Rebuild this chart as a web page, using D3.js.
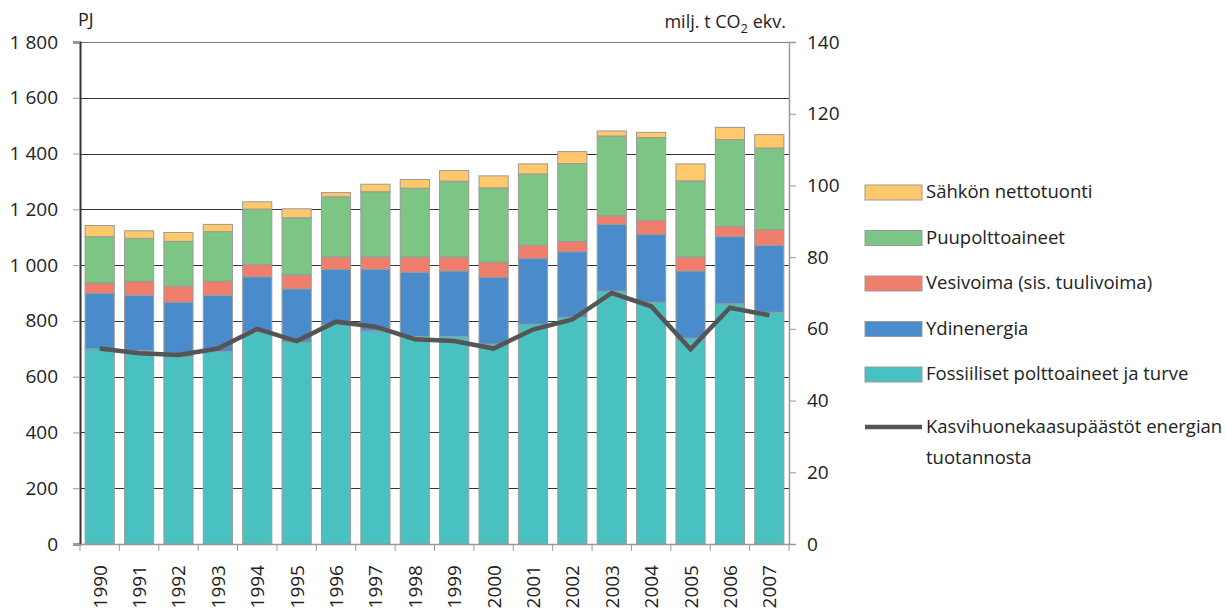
<!DOCTYPE html>
<html>
<head>
<meta charset="utf-8">
<script src="https://cdn.jsdelivr.net/npm/d3@7"></script>
<style>
  body { margin: 0; background: #fff; }
  svg text { font-family: "Open Sans", "DejaVu Sans", sans-serif; fill: #222; }
</style>
</head>
<body>
<svg width="1226" height="610"></svg>
<script>
// values, PJ
var years = [1990, 1991, 1992, 1993, 1994, 1995, 1996, 1997, 1998, 1999, 2000, 2001, 2002, 2003, 2004, 2005, 2006, 2007];
var fossiili = [700, 694, 672, 690, 760, 724, 788, 764, 744, 744, 717, 788, 813, 907, 867, 738, 861, 831];
var ydin = [199, 198, 195, 202, 198, 191, 197, 221, 230, 235, 239, 236, 235, 239, 243, 241, 241, 240];
var vesi = [37, 50, 57, 50, 44, 50, 44, 44, 55, 50, 54, 47, 37, 31, 50, 50, 37, 56];
var puu = [166, 154, 161, 178, 199, 205, 216, 234, 247, 272, 267, 256, 279, 286, 297, 273, 311, 293];
var tuonti = [40, 27, 32, 26, 26, 32, 15, 27, 31, 38, 43, 36, 43, 18, 19, 61, 44, 48];
// milj. t CO2 ekv.
var paastot = [54.5, 53.2, 52.7, 54.5, 60.0, 56.6, 62.0, 60.6, 57.1, 56.6, 54.5, 59.8, 62.6, 70.0, 66.3, 54.3, 65.9, 63.8];

var seriesKeys = ["fossiili", "ydin", "vesi", "puu", "tuonti"];
var seriesNames = {
  tuonti: "Sähkön nettotuonti",
  puu: "Puupolttoaineet",
  vesi: "Vesivoima (sis. tuulivoima)",
  ydin: "Ydinenergia",
  fossiili: "Fossiiliset polttoaineet ja turve"
};
var colors = {
  tuonti: "#ffc86a",
  puu: "#7dc584",
  vesi: "#f07e6c",
  ydin: "#4a8bcb",
  fossiili: "#48c1c0"
};
var leftTicks = [0, 200, 400, 600, 800, 1000, 1200, 1400, 1600, 1800];
var rightTicks = [0, 20, 40, 60, 80, 100, 120, 140];

var table = years.map(function(y, i) {
  return { year: y, fossiili: fossiili[i], ydin: ydin[i], vesi: vesi[i], puu: puu[i], tuonti: tuonti[i], paastot: paastot[i] };
});

var svg = d3.select("svg"),
    plotLeft = 80, plotRight = 789, plotTop = 42, plotBottom = 544;

var x = d3.scaleBand().domain(years).range([plotLeft, plotRight]).paddingInner(0.26).paddingOuter(0.13);
var y = d3.scaleLinear().domain([0, 1800]).range([plotBottom, plotTop]);
var y2 = d3.scaleLinear().domain([0, 140]).range([plotBottom, plotTop]);

var fmt = function(d) { return d3.format(",")(d).replace(",", " "); };

// gridlines
svg.append("g").selectAll("line")
    .data(leftTicks.slice(1))
    .enter().append("line")
    .attr("x1", plotLeft).attr("x2", plotRight)
    .attr("y1", function(d) { return Math.round(y(d)) + 0.5; })
    .attr("y2", function(d) { return Math.round(y(d)) + 0.5; })
    .attr("stroke", function(d) { return d === 1800 ? "#7a7a7a" : "#333"; })
    .attr("stroke-width", 1.2);

// stacked bars
var stack = d3.stack().keys(seriesKeys);
var layers = stack(table);

svg.append("g").selectAll("g")
    .data(layers)
    .enter().append("g")
    .attr("fill", function(d) { return colors[d.key]; })
  .selectAll("rect")
    .data(function(d) { return d; })
    .enter().append("rect")
    .attr("x", function(d) { return x(d.data.year); })
    .attr("width", x.bandwidth())
    .attr("y", function(d) { return y(d[1]); })
    .attr("height", function(d) { return y(d[0]) - y(d[1]); })
    .attr("stroke", "#9a9a9a")
    .attr("stroke-width", 1);

// emissions line
var line = d3.line()
    .x(function(d) { return x(d.year) + x.bandwidth() / 2; })
    .y(function(d) { return y2(d.paastot); });

svg.append("path")
    .datum(table)
    .attr("fill", "none")
    .attr("stroke", "#555")
    .attr("stroke-width", 4.5)
    .attr("d", line);

// left axis
var gl = svg.append("g").attr("transform", "translate(" + plotLeft + ",0)")
    .call(d3.axisLeft(y).tickValues(leftTicks).tickFormat(fmt).tickSize(7).tickPadding(15));
gl.select(".domain").attr("stroke", "#333").attr("stroke-width", 2);
gl.selectAll(".tick line").attr("stroke", "#999");
gl.selectAll(".tick text").style("font-size", "19px");

// right axis
var gr = svg.append("g").attr("transform", "translate(" + plotRight + ",0)")
    .call(d3.axisRight(y2).tickValues(rightTicks).tickSize(7).tickPadding(11));
gr.select(".domain").attr("stroke", "#999").attr("stroke-width", 1.5);
gr.selectAll(".tick line").attr("stroke", "#999");
gr.selectAll(".tick text").style("font-size", "19px");

// bottom axis, ticks between categories
var step = x.step();
var gb = svg.append("g");
gb.append("line")
    .attr("x1", plotLeft).attr("x2", plotRight)
    .attr("y1", plotBottom + 0.5).attr("y2", plotBottom + 0.5)
    .attr("stroke", "#999").attr("stroke-width", 1.5);
gb.selectAll("line.tk")
    .data(d3.range(years.length + 1))
    .enter().append("line")
    .attr("class", "tk")
    .attr("x1", function(i) { return plotLeft + i * step; })
    .attr("x2", function(i) { return plotLeft + i * step; })
    .attr("y1", plotBottom).attr("y2", plotBottom + 7)
    .attr("stroke", "#999");
gb.selectAll("text")
    .data(years)
    .enter().append("text")
    .attr("transform", function(d) { return "translate(" + (x(d) + x.bandwidth() / 2 + 7) + "," + (plotBottom + 21) + ") rotate(-90)"; })
    .attr("text-anchor", "end")
    .style("font-size", "19px")
    .text(function(d) { return d; });

// unit labels
svg.append("text").attr("x", 78).attr("y", 26).style("font-size", "18px").text("PJ");
var unit = svg.append("text").attr("x", 786).attr("y", 28).attr("text-anchor", "end").style("font-size", "18px");
unit.append("tspan").text("milj. t CO");
unit.append("tspan").attr("dy", 5).style("font-size", "13px").text("2");
unit.append("tspan").attr("dy", -5).text(" ekv.");

// legend
var legendKeys = ["tuonti", "puu", "vesi", "ydin", "fossiili"];
var lg = svg.append("g").attr("transform", "translate(865,0)");
legendKeys.forEach(function(k, i) {
  var cy = 192 + i * 45.5;
  lg.append("rect").attr("x", 0).attr("y", cy - 7).attr("width", 57).attr("height", 15)
    .attr("fill", colors[k]).attr("stroke", "#9a9a9a").attr("stroke-width", 1);
  lg.append("text").attr("x", 61).attr("y", cy + 6).style("font-size", "18.5px").text(seriesNames[k]);
});
lg.append("line").attr("x1", 0).attr("x2", 57).attr("y1", 427).attr("y2", 427)
  .attr("stroke", "#555").attr("stroke-width", 4.5);
lg.append("text").attr("x", 61).attr("y", 433).style("font-size", "18.5px").text("Kasvihuonekaasupäästöt energian");
lg.append("text").attr("x", 61).attr("y", 464).style("font-size", "18.5px").text("tuotannosta");
</script>
</body>
</html>
